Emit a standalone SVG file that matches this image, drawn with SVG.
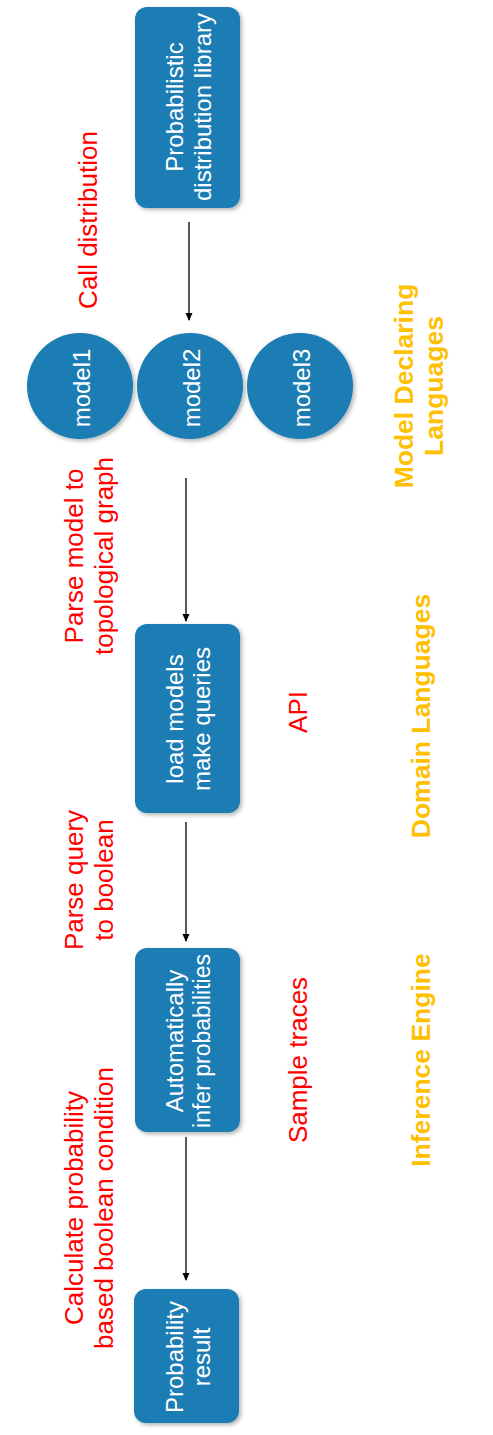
<svg xmlns="http://www.w3.org/2000/svg" width="493" height="1435" viewBox="0 0 493 1435">
<defs>
<filter id="sh" x="-20%" y="-20%" width="140%" height="140%">
<feDropShadow dx="2" dy="2" stdDeviation="2" flood-color="#000" flood-opacity="0.3"/>
</filter>
<marker id="ah" markerWidth="8" markerHeight="8" refX="7" refY="4" orient="auto" markerUnits="userSpaceOnUse">
<path d="M0,0.5 L8,4 L0,7.5 Z" fill="#000"/>
</marker>
<style>
.box{fill:#1b7bb4;filter:url(#sh)}
.wt{font-family:"Liberation Sans",Arial,sans-serif;font-size:24px;fill:#fff;text-anchor:middle}
.rt{font-family:"Liberation Sans",Arial,sans-serif;font-size:26px;fill:#ff0000;text-anchor:middle}
.ot{font-family:"Liberation Sans",Arial,sans-serif;font-size:26.5px;font-weight:bold;fill:#ffc000;text-anchor:middle}
.ln{stroke:#000;stroke-width:1.3;fill:none;marker-end:url(#ah)}
</style>
</defs>
<g id="connectors">
<line class="ln" x1="189" y1="222" x2="189" y2="320"/>
<line class="ln" x1="186" y1="478" x2="186" y2="621"/>
<line class="ln" x1="186" y1="822" x2="186" y2="941"/>
<line class="ln" x1="186" y1="1137" x2="186" y2="1280"/>
</g>
<g id="node-library">
<rect class="box" x="135" y="7" width="105" height="201" rx="12"/>
<text class="wt" transform="translate(0,107) rotate(-90)"><tspan x="0" y="183">Probabilistic</tspan><tspan x="0" y="211">distribution library</tspan></text>
</g>
<g id="node-model1">
<circle class="box" cx="80" cy="386" r="53"/>
<text class="wt" transform="translate(0,388) rotate(-90)"><tspan x="0" y="90">model1</tspan></text>
</g>
<g id="node-model2">
<circle class="box" cx="190" cy="386" r="53"/>
<text class="wt" transform="translate(0,388) rotate(-90)"><tspan x="0" y="200">model2</tspan></text>
</g>
<g id="node-model3">
<circle class="box" cx="300" cy="386" r="53"/>
<text class="wt" transform="translate(0,388) rotate(-90)"><tspan x="0" y="310">model3</tspan></text>
</g>
<g id="node-load">
<rect class="box" x="135" y="624" width="105" height="189" rx="12"/>
<text class="wt" transform="translate(0,719) rotate(-90)"><tspan x="0" y="183">load models</tspan><tspan x="0" y="210">make queries</tspan></text>
</g>
<g id="node-infer">
<rect class="box" x="135" y="948" width="105" height="184" rx="12"/>
<text class="wt" transform="translate(0,1041) rotate(-90)"><tspan x="0" y="183">Automatically</tspan><tspan x="0" y="210" font-size="23">infer probabilities</tspan></text>
</g>
<g id="node-result">
<rect class="box" x="134" y="1289" width="105" height="134" rx="12"/>
<text class="wt" transform="translate(0,1357) rotate(-90)"><tspan x="0" y="183">Probability</tspan><tspan x="0" y="210">result</tspan></text>
</g>
<g id="labels">
<text class="rt" transform="translate(0,220) rotate(-90)"><tspan x="0" y="97">Call distribution</tspan></text>
<text class="rt" transform="translate(0,556) rotate(-90)"><tspan x="0" y="83">Parse model to</tspan><tspan x="0" y="113">topological graph</tspan></text>
<text class="rt" transform="translate(0,712) rotate(-90)"><tspan x="0" y="307">API</tspan></text>
<text class="rt" transform="translate(0,880) rotate(-90)"><tspan x="0" y="83">Parse query</tspan><tspan x="0" y="113">to boolean</tspan></text>
<text class="rt" transform="translate(0,1060) rotate(-90)"><tspan x="0" y="307">Sample traces</tspan></text>
<text class="rt" transform="translate(0,1208) rotate(-90)"><tspan x="0" y="83">Calculate probability</tspan><tspan x="0" y="113">based boolean condition</tspan></text>
<text class="ot" transform="translate(0,386) rotate(-90)"><tspan x="0" y="413">Model Declaring</tspan><tspan x="0" y="443">Languages</tspan></text>
<text class="ot" transform="translate(0,716) rotate(-90)"><tspan x="0" y="430">Domain Languages</tspan></text>
<text class="ot" transform="translate(0,1060) rotate(-90)"><tspan x="0" y="430">Inference Engine</tspan></text>
</g>
</svg>
